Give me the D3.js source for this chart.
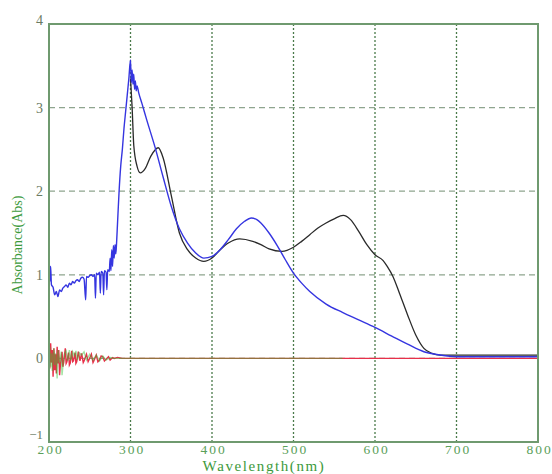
<!DOCTYPE html>
<html>
<head>
<meta charset="utf-8">
<script src="https://cdn.jsdelivr.net/npm/d3@7"></script>
<style>
  html, body { margin: 0; padding: 0; background: #fff; }
  svg { display: block; }
</style>
</head>
<body>
<svg id="chart" width="552" height="474"></svg>
<script>
// Tick values
const xTicks = [200, 300, 400, 500, 600, 700, 800];
const yTicks = [-1, 0, 1, 2, 3, 4];

// Blue spectrum (noisy below 285 nm)
const blueNm = [200, 200.5, 201, 202, 203, 205, 207, 209, 211, 213, 215, 217, 219, 221, 223, 225, 227, 229, 231, 233, 235, 237, 239, 241, 243, 245, 246, 248, 250, 252, 254, 256, 257, 258, 260, 262, 263, 264, 266, 267, 268, 270, 271, 272, 274, 275, 276, 277, 278, 279, 280, 281, 282, 283, 284, 286, 288, 290, 292, 294, 296, 298, 300, 301, 302, 303, 304, 305, 306, 307, 308, 310, 314, 320, 330, 340, 350, 360, 370, 380, 390, 400, 410, 420, 430, 440, 448, 455, 460, 470, 480, 490, 500, 510, 520, 540, 560, 580, 600, 620, 640, 660, 680, 700, 750, 800];
const blueAbs = [0.95, 1.15, 0.92, 1.1, 0.88, 0.85, 0.76, 0.8, 0.74, 0.82, 0.8, 0.84, 0.86, 0.88, 0.85, 0.9, 0.88, 0.92, 0.9, 0.93, 0.94, 0.92, 0.96, 0.97, 0.95, 0.7, 0.98, 0.97, 0.99, 1.0, 0.98, 1.0, 0.72, 1.02, 1.0, 1.03, 0.78, 1.04, 1.02, 0.76, 1.05, 1.03, 0.82, 1.06, 1.04, 1.2, 1.05, 1.3, 1.1, 1.35, 1.2, 1.36, 1.25, 1.4, 1.6, 2.0, 2.3, 2.5, 2.75, 2.95, 3.15, 3.35, 3.57, 3.3, 3.45, 3.28, 3.4, 3.22, 3.32, 3.2, 3.26, 3.18, 3.05, 2.85, 2.53, 2.17, 1.82, 1.55, 1.38, 1.26, 1.2, 1.22, 1.3, 1.42, 1.55, 1.64, 1.68, 1.66, 1.62, 1.5, 1.35, 1.18, 1.02, 0.9, 0.8, 0.65, 0.55, 0.46, 0.37, 0.27, 0.17, 0.08, 0.04, 0.02, 0.02, 0.02];

// Black spectrum
const blackNm = [300, 302, 304, 308, 312, 318, 325, 334, 340, 350, 360, 370, 380, 390, 400, 410, 420, 434, 450, 460, 470, 486, 500, 510, 520, 530, 540, 550, 561, 570, 580, 590, 600, 610, 615, 622, 630, 640, 650, 660, 670, 680, 700, 750, 800];
const blackAbs = [3.35, 3.0, 2.55, 2.3, 2.22, 2.27, 2.42, 2.52, 2.4, 1.95, 1.5, 1.3, 1.2, 1.16, 1.2, 1.3, 1.38, 1.43, 1.4, 1.36, 1.31, 1.28, 1.33, 1.4, 1.48, 1.56, 1.62, 1.67, 1.71, 1.66, 1.52, 1.36, 1.24, 1.17, 1.1, 0.98, 0.78, 0.52, 0.28, 0.12, 0.06, 0.04, 0.04, 0.04, 0.04];

// Red baseline trace
const redNm = [200, 201, 202, 203, 204, 205, 206, 207, 208, 209, 210, 211, 212, 213, 214, 216, 217, 218, 220, 221, 222, 224, 225, 226, 228, 229, 230, 232, 233, 234, 236, 238, 240, 242, 243, 246, 248, 249, 252, 254, 255, 258, 260, 262, 264, 266, 268, 270, 273, 275, 278, 280, 284, 290, 800];
const redAbs = [0.05, -0.12, 0.18, -0.05, 0.1, -0.22, 0.12, -0.14, 0.05, -0.18, 0.14, -0.06, 0.1, -0.2, -0.08, 0.08, -0.1, -0.05, 0.12, -0.06, -0.04, 0.07, -0.08, -0.06, 0.09, -0.04, -0.03, 0.07, -0.06, -0.04, 0.08, -0.03, 0.06, -0.05, -0.03, 0.05, -0.04, -0.02, 0.05, -0.05, -0.03, 0.04, -0.04, -0.02, 0.03, 0.02, -0.03, -0.01, 0.02, -0.02, 0.01, 0, 0.01, 0, 0];

// Green baseline trace
const greenNm = [200, 201, 202, 203, 204, 205, 206, 207, 208, 209, 210, 211, 213, 215, 216, 217, 219, 221, 223, 225, 227, 229, 231, 233, 235, 237, 240, 243, 246, 250, 254, 258, 262, 266, 270, 275, 280, 290, 560];
const greenAbs = [-0.05, 0.14, -0.1, 0.06, -0.15, 0.03, 0.12, -0.08, 0.06, -0.05, -0.24, 0.1, -0.05, 0.08, -0.2, -0.1, 0.06, 0.09, -0.03, 0.1, -0.02, 0.08, 0.03, 0.09, -0.02, 0.07, 0.04, 0.08, -0.02, 0.05, -0.02, 0.04, -0.03, 0.03, -0.02, 0.01, 0, 0, 0];

const svg = d3.select("#chart");
const plotLeft = 49, plotRight = 538, plotTop = 24, plotBottom = 442;

const x = d3.scaleLinear().domain([200, 800]).range([plotLeft, plotRight]);
const y = d3.scaleLinear().domain([-1, 4]).range([plotBottom, plotTop]);

const serif = "'Liberation Serif', 'DejaVu Serif', serif";

// Grid lines
svg.append("g").selectAll("line")
  .data(xTicks.filter(d => d > 200 && d < 800))
  .join("line")
  .attr("x1", d => x(d)).attr("x2", d => x(d))
  .attr("y1", plotTop).attr("y2", plotBottom)
  .attr("stroke", "#4a7a4a").attr("stroke-width", 1.3)
  .attr("stroke-dasharray", "2,2");

svg.append("g").selectAll("line")
  .data(yTicks.filter(d => d > -1 && d < 4))
  .join("line")
  .attr("x1", plotLeft).attr("x2", plotRight)
  .attr("y1", d => y(d)).attr("y2", d => y(d))
  .attr("stroke", "#8fa58f").attr("stroke-width", 1.3)
  .attr("stroke-dasharray", "6,4");

// Traces
const line = (nm, abs, curve) => d3.line()
  .x(i => x(nm[i])).y(i => y(abs[i]))
  .curve(curve)(d3.range(nm.length));

svg.append("path").attr("d", line(redNm, redAbs, d3.curveLinear))
  .attr("fill", "none").attr("stroke", "#e8304a").attr("stroke-width", 1.4);
svg.append("path").attr("d", line(greenNm, greenAbs, d3.curveLinear))
  .attr("fill", "none").attr("stroke", "#30c030").attr("stroke-width", 1.4)
  .attr("stroke-opacity", 0.45);
svg.append("path").attr("d", line(blackNm, blackAbs, d3.curveMonotoneX))
  .attr("fill", "none").attr("stroke", "#2a2a2a").attr("stroke-width", 1.3);
svg.append("path").attr("d", line(blueNm, blueAbs, d3.curveMonotoneX))
  .attr("fill", "none").attr("stroke", "#3535e0").attr("stroke-width", 1.4);

// Frame
svg.append("rect")
  .attr("x", plotLeft).attr("y", plotTop)
  .attr("width", plotRight - plotLeft).attr("height", plotBottom - plotTop)
  .attr("fill", "none").attr("stroke", "#6f9a6f").attr("stroke-width", 2);

// Axes
const xAxis = svg.append("g").attr("transform", `translate(0,${plotBottom})`)
  .call(d3.axisBottom(x).tickValues(xTicks).tickSize(0).tickPadding(2).tickFormat(d3.format("d")));
xAxis.select(".domain").remove();
xAxis.selectAll("text")
  .attr("font-family", serif).attr("font-size", 13.5).attr("fill", "#5aa05a")
  .attr("letter-spacing", 2).attr("dx", 1);

const yAxis = svg.append("g").attr("transform", `translate(${plotLeft},0)`)
  .call(d3.axisLeft(y).tickValues(yTicks).tickSize(0).tickPadding(6).tickFormat(d3.format("d")));
yAxis.select(".domain").remove();
yAxis.selectAll("text")
  .attr("font-family", serif).attr("font-size", 14).attr("fill", "#6a7a62");
yAxis.selectAll(".tick").filter(d => d === 4).select("text").attr("dy", "0.05em");
yAxis.selectAll(".tick").filter(d => d === -1).select("text")
  .attr("font-size", 13).attr("dy", "-0.25em");

// Axis titles
svg.append("text")
  .attr("x", 264).attr("y", 471)
  .attr("text-anchor", "middle")
  .attr("font-family", serif).attr("font-size", 15).attr("letter-spacing", 1.6)
  .attr("fill", "#3c9a3c")
  .text("Wavelength(nm)");

svg.append("text")
  .attr("transform", `translate(22,245) rotate(-90)`)
  .attr("text-anchor", "middle")
  .attr("font-family", serif).attr("font-size", 14).attr("fill", "#3c9a3c")
  .text("Absorbance(Abs)");
</script>
</body>
</html>
